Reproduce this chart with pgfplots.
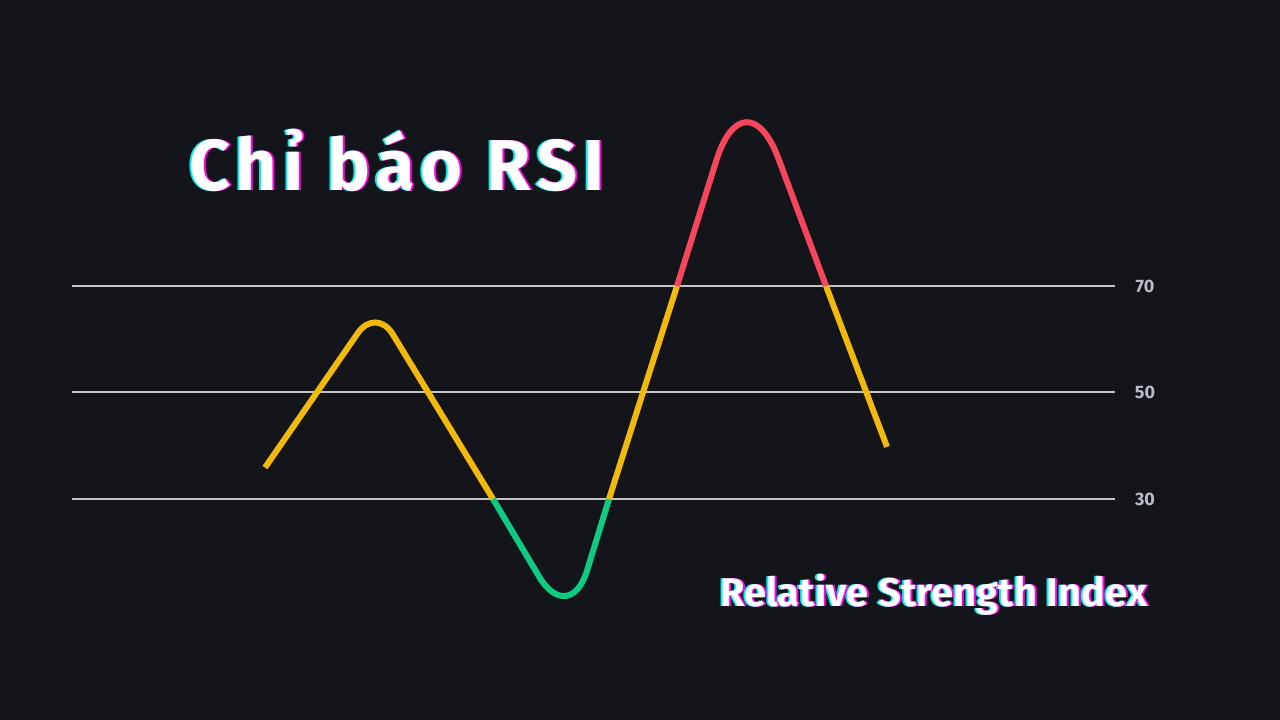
\documentclass[border=0pt]{standalone}
\usepackage{pgfplots}
\pgfplotsset{compat=1.18}
\usepackage{fontspec}
\setmainfont{Fira Sans}
\definecolor{bg}{HTML}{14151A}
\definecolor{yel}{HTML}{F0B90B}
\definecolor{rd}{HTML}{F6465D}
\definecolor{gr}{HTML}{0ECB81}
\definecolor{gridc}{HTML}{C2C4C8}
\definecolor{tickc}{HTML}{B7BDC6}
\definecolor{cy}{HTML}{00F0F0}
\definecolor{mg}{HTML}{FF00E0}
\newcommand{\glitch}[4]{%
  \node[text=cy,anchor=base west,font=#3,xshift=-1pt] at (axis cs:#1,#2) {#4};
  \node[text=mg,anchor=base west,font=#3,xshift=1pt] at (axis cs:#1,#2) {#4};
  \node[text=white,anchor=base west,font=#3] at (axis cs:#1,#2) {#4};
}
\begin{document}
\begin{tikzpicture}
\begin{axis}[
  width=640pt, height=360pt, scale only axis,
  xmin=0, xmax=1280, ymin=-11.50, ymax=123.71,
  hide axis, clip=false,
]
\fill[bg] (rel axis cs:0,0) rectangle (rel axis cs:1,1);
% reference lines
\addplot[gridc, line width=1pt] coordinates {(72,70) (1115,70)};
\addplot[gridc, line width=1pt] coordinates {(72,50) (1115,50)};
\addplot[gridc, line width=1pt] coordinates {(72,30) (1115,30)};
\node[text=tickc,font=\bfseries\fontsize{9pt}{10pt}\selectfont] at (axis cs:1145,70) {70};
\node[text=tickc,font=\bfseries\fontsize{9pt}{10pt}\selectfont] at (axis cs:1145,50) {50};
\node[text=tickc,font=\bfseries\fontsize{9pt}{10pt}\selectfont] at (axis cs:1145,30) {30};
% RSI line
\addplot[yel, line width=3pt, rounded corners=16pt] coordinates {(265,35.9) (376,66.1) (493,30)};
\addplot[gr, line width=3pt, rounded corners=30pt] coordinates {(493,30) (569.5,5.8) (609,30)};
\addplot[yel, line width=3pt] coordinates {(609,30) (677,70)};
\addplot[rd, line width=3pt, rounded corners=48pt] coordinates {(677,70) (745,110.75) (826,70)};
\addplot[yel, line width=3pt] coordinates {(826,70) (887,39.8)};
% titles
\glitch{182}{88.0}{\bfseries\fontsize{36pt}{40pt}\selectfont\addfontfeatures{LetterSpace=8.5}}{Chỉ báo RSI}
\glitch{713}{9.9}{\bfseries\fontsize{20pt}{24pt}\selectfont}{Relative Strength Index}
\end{axis}
\end{tikzpicture}
\end{document}
